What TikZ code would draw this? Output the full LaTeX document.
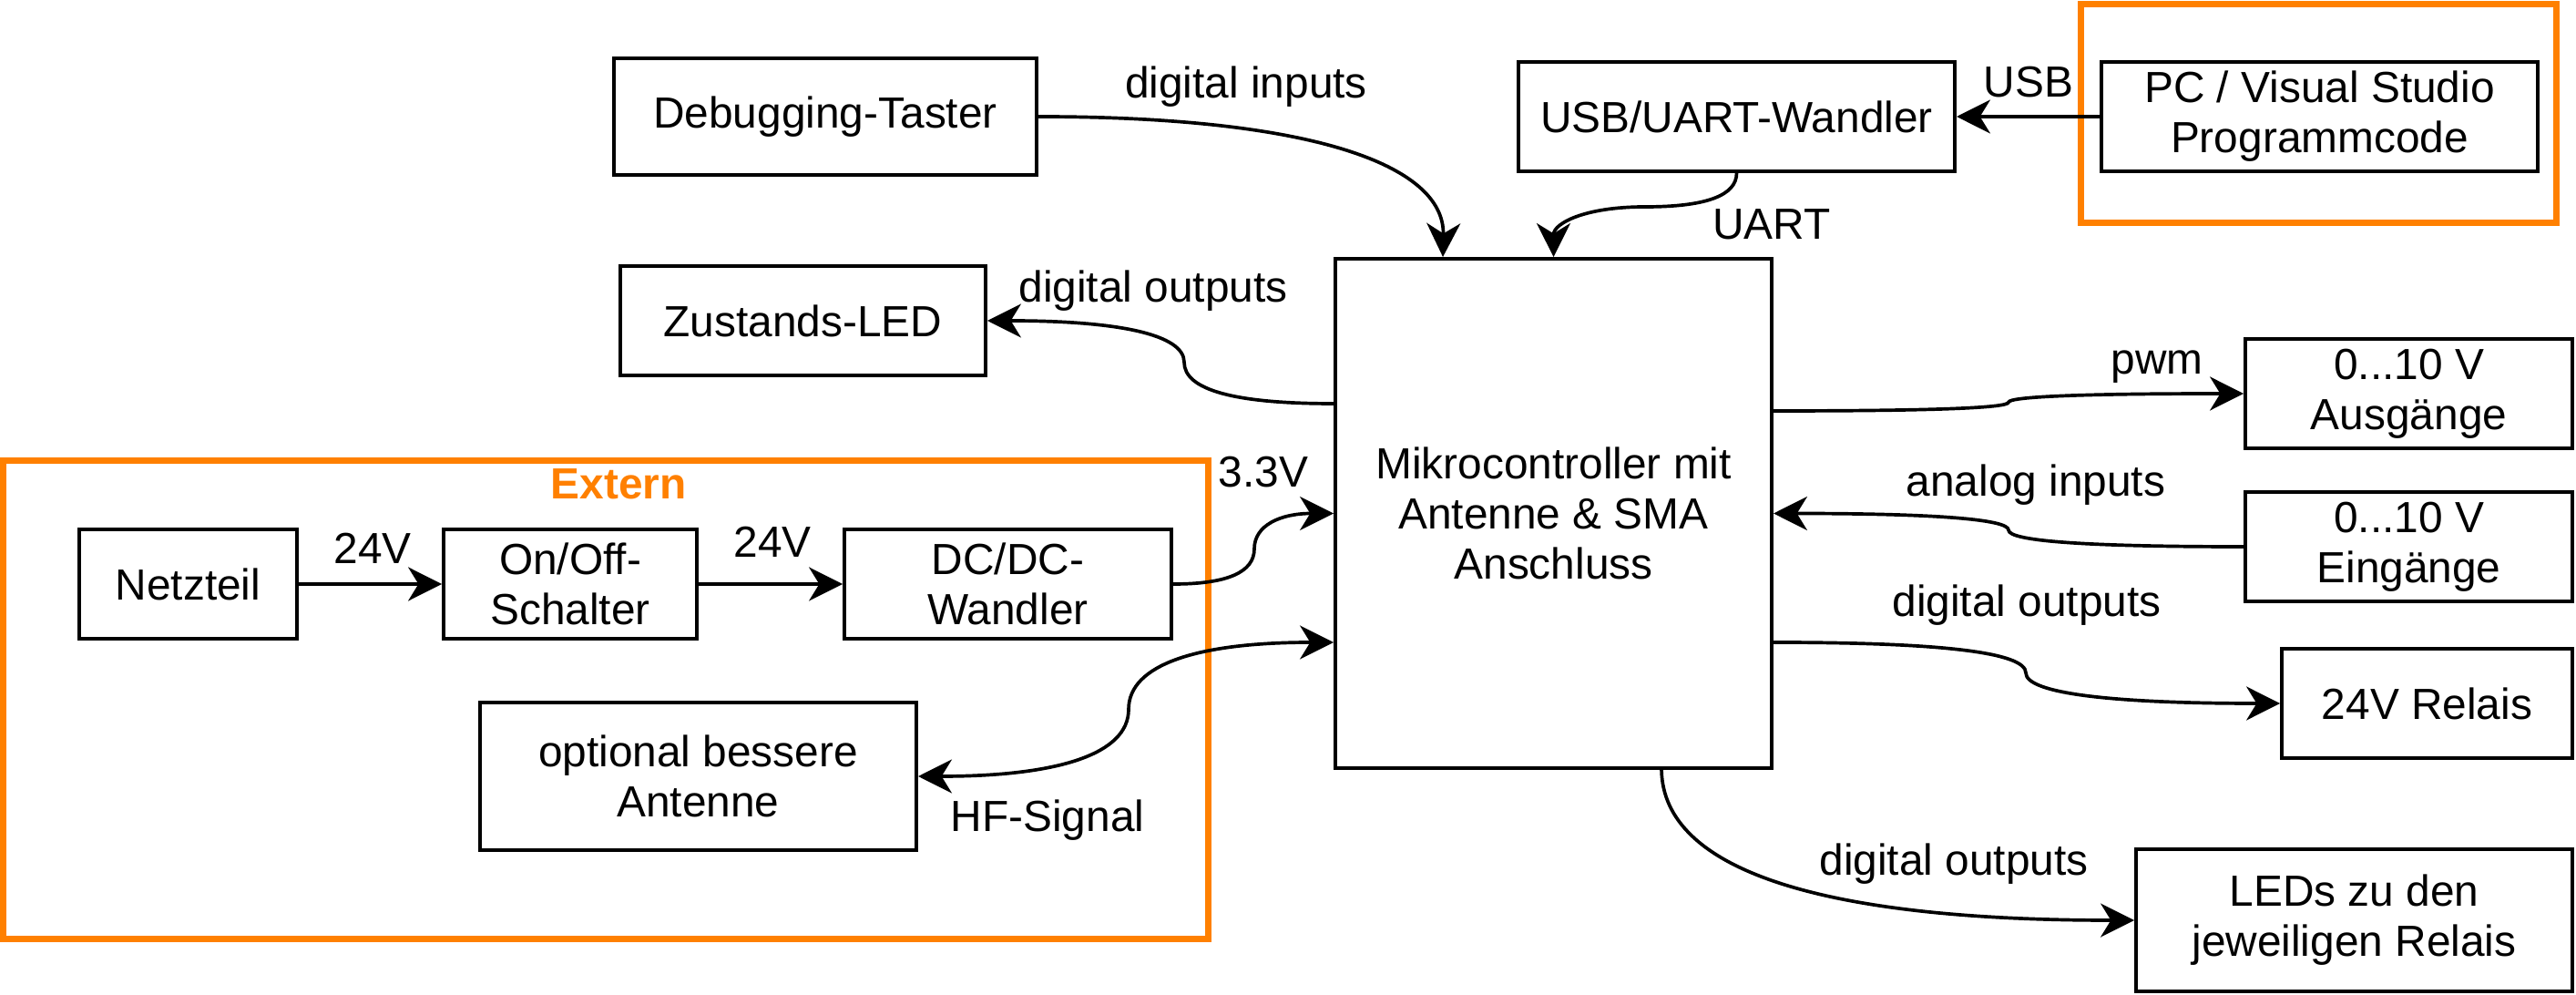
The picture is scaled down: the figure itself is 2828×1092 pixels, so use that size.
\documentclass[tikz,border=0pt]{standalone}
\usepackage{fontspec}
\setmainfont{Liberation Sans}
\usetikzlibrary{arrows.meta,calc}
\definecolor{extorange}{HTML}{FF8000}

% horizontal S-step: A, B, x of the vertical middle part
\newcommand\hstep[4][]{%
  \draw[conn,#1] let \p1=(#2), \p2=(#3), \p3=(#4,0) in
  (\p1) .. controls ({\x1+2/3*(\x3-\x1)},\y1) and (\x3,{(\y1+\y2)/2+(\y1-\y2)/3}) ..
  (\x3,{(\y1+\y2)/2}) .. controls (\x3,{(\y1+\y2)/2+(\y2-\y1)/3}) and ({\x2+2/3*(\x3-\x2)},\y2) .. (\p2);}
% vertical S-step: A, B, y of the horizontal middle part
\newcommand\vstep[4][]{%
  \draw[conn,#1] let \p1=(#2), \p2=(#3), \p3=(0,#4) in
  (\p1) .. controls (\x1,{\y1+2/3*(\y3-\y1)}) and ({(\x1+\x2)/2+(\x1-\x2)/3},\y3) ..
  ({(\x1+\x2)/2},\y3) .. controls ({(\x1+\x2)/2+(\x2-\x1)/3},\y3) and (\x2,{\y2+2/3*(\y3-\y2)}) .. (\p2);}

\begin{document}
\begin{tikzpicture}[x=0.01cm,y=-0.01cm,
  font=\fontsize{13.6}{15.6}\selectfont,
  >={Stealth[length=10.5pt,width=10.5pt,inset=3.2pt]},
  box/.style={draw,line width=1.05pt,align=center,inner sep=0pt},
  frame/.style={draw=extorange,line width=2pt,inner sep=0pt},
  conn/.style={->,line width=1.05pt},
  lbl/.style={inner sep=0pt,anchor=base}]
\useasboundingbox (0,0) rectangle (2828,1092);

% frames
\node[frame,minimum width=5.21cm,minimum height=2.39cm] (pcframe) at (2545.5,124.5) {};
\node[frame,minimum width=13.22cm,minimum height=5.24cm] (extframe) at (665,768) {};

% boxes
\node[box,minimum width=4.64cm,minimum height=1.28cm] (deb) at (906,128) {Debugging-Taster};
\node[box,minimum width=4.79cm,minimum height=1.2cm] (usb) at (1906.5,128) {USB/UART-Wandler};
\node[box,minimum width=4.79cm,minimum height=1.2cm] (pc) at (2546.5,128) {PC / Visual Studio\\Programmcode};
\node[box,minimum width=4.01cm,minimum height=1.2cm] (led) at (881.5,352) {Zustands-LED};
\node[box,minimum width=4.79cm,minimum height=5.59cm] (mc) at (1705.5,563.5) {Mikrocontroller mit\\Antenne \& SMA\\Anschluss};
\node[box,minimum width=3.59cm,minimum height=1.2cm] (aus) at (2644.5,432) {0...10 V\\Ausgänge};
\node[box,minimum width=3.59cm,minimum height=1.2cm] (ein) at (2644.5,600) {0...10 V\\Eingänge};
\node[box,minimum width=3.19cm,minimum height=1.2cm] (rel) at (2664.5,772) {24V Relais};
\node[box,minimum width=4.79cm,minimum height=1.56cm] (leds) at (2584.5,1010) {LEDs zu den\\jeweiligen Relais};
\node[box,minimum width=2.39cm,minimum height=1.2cm] (netz) at (206.5,641) {Netzteil};
\node[box,minimum width=2.78cm,minimum height=1.2cm] (onoff) at (626,641) {On/Off-\\Schalter};
\node[box,minimum width=3.59cm,minimum height=1.2cm] (dcdc) at (1106.5,641) {DC/DC-\\Wandler};
\node[box,minimum width=4.79cm,minimum height=1.62cm] (opt) at (766.5,852) {optional bessere\\Antenne};

% connectors
\draw[conn] (deb.east) .. controls (1437,128) and (1586,180) .. ($(mc.north west)+(120,0)$);
\vstep{usb.south}{mc.north}{227}
\draw[conn] (pc.west) -- (usb.east);
\hstep{$(mc.north west)+(0,161)$}{led.east}{1300}
\hstep{$(mc.north east)+(0,169)$}{aus.west}{2205}
\hstep{ein.west}{mc.east}{2205}
\hstep{$(mc.north east)+(0,423)$}{rel.west}{2224}
\draw[conn] ($(mc.south west)+(360,0)$) .. controls (1826,955) and (1999,1010) .. (leds.west);
\draw[conn] (netz.east) -- (onoff.west);
\draw[conn] (onoff.east) -- (dcdc.west);
\hstep{dcdc.east}{mc.west}{1377}
\hstep[<->]{$(mc.north west)+(0,423)$}{opt.east}{1239}

% labels
\node[lbl] (tdi) at (1368,108) {digital inputs};
\node[lbl] (tusb) at (2227,107) {USB};
\node[lbl] (tuart) at (1945,263) {UART};
\node[lbl] (tdo1) at (1266,332) {digital outputs};
\node[lbl] (t33) at (1387,535) {3.3V};
\node[lbl] (tpwm) at (2368,411) {pwm};
\node[lbl] (tai) at (2235,545) {analog inputs};
\node[lbl] (tdo2) at (2225,677) {digital outputs};
\node[lbl] (t24a) at (409,619) {24V};
\node[lbl] (t24b) at (848,612) {24V};
\node[lbl,font=\fontsize{13.6}{15.6}\selectfont\bfseries,text=extorange] (text) at (679,548) {Extern};
\node[lbl] (thf) at (1150,912) {HF-Signal};
\node[lbl] (tdo3) at (2145,960) {digital outputs};
\end{tikzpicture}
\end{document}
